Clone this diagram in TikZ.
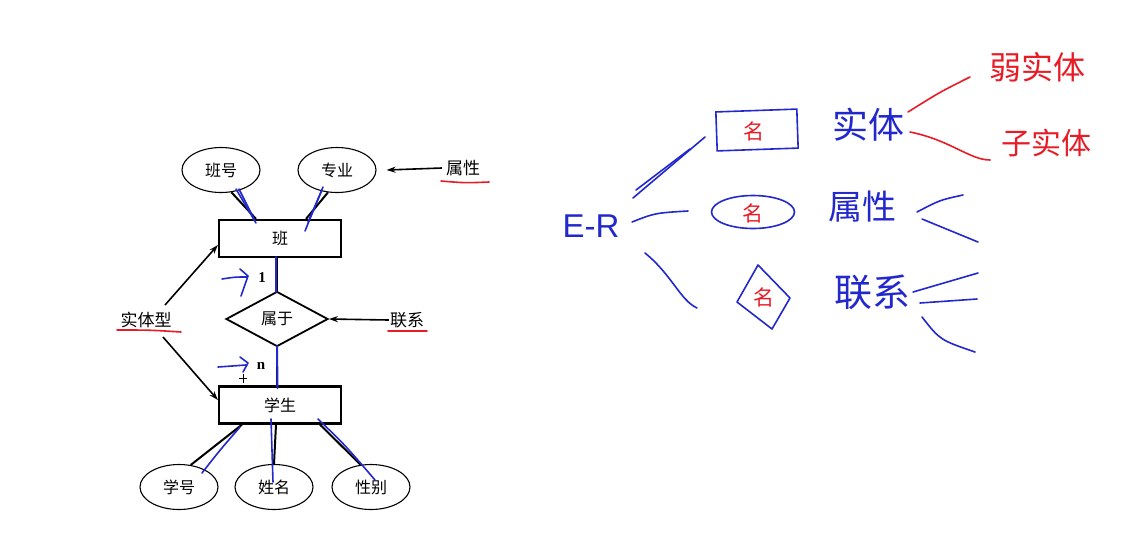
\documentclass[tikz,border=0pt]{standalone}
\usepackage{fontspec}
\setmainfont{Liberation Serif}
\setsansfont{Liberation Sans}
\newfontfamily\cjk{Noto Sans CJK SC}
\usetikzlibrary{shapes.geometric,arrows.meta}
\definecolor{hblue}{RGB}{35,40,205}
\definecolor{hred}{RGB}{232,28,38}
\begin{document}
\begin{tikzpicture}[x=1pt,y=-1pt,
  ent/.style={draw, line width=2.2pt, minimum width=122pt, minimum height=37pt, inner sep=0pt, font=\cjk\fontsize{16}{16}\selectfont},
  attr/.style={draw, ellipse, line width=1.1pt, minimum width=78pt, minimum height=45pt, inner sep=0pt, font=\cjk\fontsize{16}{16}\selectfont},
  rel/.style={draw, diamond, aspect=1.85, line width=1.8pt, minimum width=102pt, minimum height=55pt, inner sep=0pt, font=\cjk\fontsize{16}{16}\selectfont},
  lab/.style={inner sep=1pt, font=\cjk\fontsize{17}{17}\selectfont},
  num/.style={inner sep=1pt, font=\bfseries\fontsize{15}{15}\selectfont},
  conn/.style={line width=2pt},
  arr/.style={line width=1.6pt, -{Stealth[length=9pt,width=6pt]}},
  pen/.style={draw=hblue, line width=1.6pt, line cap=round, line join=round},
  rpen/.style={draw=hred, line width=1.6pt, line cap=round, line join=round},
  hlab/.style={inner sep=0pt, text=hblue, font=\cjk\fontsize{36}{36}\selectfont},
  rlab/.style={inner sep=0pt, text=hred, font=\cjk\fontsize{32}{32}\selectfont},
  ming/.style={text=hred, font=\cjk\fontsize{21}{21}\selectfont},
  hshape/.style={draw=hblue, line width=1.6pt, inner sep=0pt}
]
\useasboundingbox (0,0) rectangle (1142,558);
\fill[white] (0,0) rectangle (1142,558);

% ---------- ER diagram ----------
\node[attr] (bh) at (221,170) {班号};
\node[attr] (zy) at (337,170) {专业};
\node[ent] (ban) at (280,238.5) {班};
\node[rel] (sy) at (277,319) {属于};
\node[ent] (xs) at (280,405) {学生};
\node[attr] (xh) at (179,487) {学号};
\node[attr] (xm) at (274,487) {姓名};
\node[attr] (xb) at (371,487) {性别};
\node[lab] (sx) at (463,168) {属性};
\node[lab] (lx) at (407,320) {联系};
\node[lab] (stx) at (146,320) {实体型};
\node[num] (one) at (262,278) {1};
\node[num] (nn) at (261,366) {n};
\coordinate (s1) at (165,305);
\coordinate (s2) at (163,337);

\draw[conn] (bh.-65) -- ([xshift=-24pt]ban.north);
\draw[conn] (zy.-112) -- ([xshift=26pt]ban.north);
\draw[conn] (sy.north |- ban.south) -- (sy.north);
\draw[conn] (sy.south) -- (sy.south |- xs.north);
\draw[conn] ([xshift=-38pt]xs.south) -- (xh.62);
\draw[conn] ([xshift=-4pt]xs.south) -- (xm.north);
\draw[conn] ([xshift=40pt]xs.south) -- (xb.115);

\draw[arr] ([xshift=-3pt]sx.west) -- ([xshift=10pt]zy.east);
\draw[arr] (lx.west) -- (sy.east);
\draw[arr] (s1) -- ([yshift=-6.5pt]ban.west);
\draw[arr] (s2) -- ([yshift=5pt]xs.west);

% red underlines
\draw[rpen] (441,181) .. controls (465,183) .. (489,182);
\draw[rpen] (388,331) -- (427,331);
\draw[rpen] (117,330) .. controls (150,330) .. (181,332);

% blue pen overlays
\draw[pen] (236,189) -- (256,223);
\draw[pen] (239,189) -- (254,219);
\draw[pen] (323,187) -- (305,231);
\draw[pen] (322,190) -- (308,222);
\draw[pen, line width=2pt] (276,257) -- (276,292);
\draw[pen, line width=2pt] (277,346) -- (277.5,388);
\draw[pen] (222,279) .. controls (235,277) .. (247,277);
\draw[pen] (240,269) -- (248,276) -- (241,296);
\draw[pen] (218,367) .. controls (232,366) .. (246,365);
\draw[pen] (240,357) -- (248,363) -- (243,372);
\draw[pen] (240,427) .. controls (220,450) .. (202,473);
\draw[pen] (271,419) .. controls (272,450) .. (273,482);
\draw[pen] (318,419) .. controls (345,445) .. (375,480);
\draw[line width=0.8pt] (239,378) -- (247,378) (243,374) -- (243,383);

% ---------- handwriting ----------
\node[inner sep=0pt, text=hblue, font=\sffamily\fontsize{33}{33}\selectfont] (er) at (591,226) {E-R};
\draw[pen] (633,198) -- (705,137);
\draw[pen] (636,190) -- (690,149);
\draw[pen] (632,222) .. controls (655,213) .. (688,211);
\draw[pen] (645,253) .. controls (672,275) and (680,300) .. (697,308);

\node[hshape, minimum width=81pt, minimum height=39pt, rotate=2] (hr) at (757,130) {};
\node[ming] (m1) at (754,131) {名};
\node[hshape, ellipse, minimum width=83pt, minimum height=33pt] (he) at (753,212) {};
\node[ming] (m2) at (753,213) {名};
\draw[pen] (758,265) -- (790,298) -- (772,329) -- (737,302) -- cycle;
\node[ming] (m3) at (764,297) {名};

\node[hlab] (st) at (868,125) {实体};
\node[hlab, font=\cjk\fontsize{34}{34}\selectfont] (sxh) at (862,207) {属性};
\node[hlab, font=\cjk\fontsize{38}{38}\selectfont] (lxh) at (872,292) {联系};
\node[rlab] (rst) at (1037,67) {弱实体};
\node[rlab, font=\cjk\fontsize{30}{30}\selectfont] (zst) at (1046,143) {子实体};

\draw[rpen] (908,112) .. controls (940,92) .. (970,77);
\draw[rpen] (910,132) .. controls (950,140) and (970,160) .. (990,160);
\draw[pen] (917,212) .. controls (940,200) .. (963,195);
\draw[pen] (922,219) .. controls (950,230) .. (978,242);
\draw[pen] (913,292) -- (978,273);
\draw[pen] (920,303) -- (977,299);
\draw[pen] (922,317) .. controls (940,340) .. (975,352);
\end{tikzpicture}
\end{document}
